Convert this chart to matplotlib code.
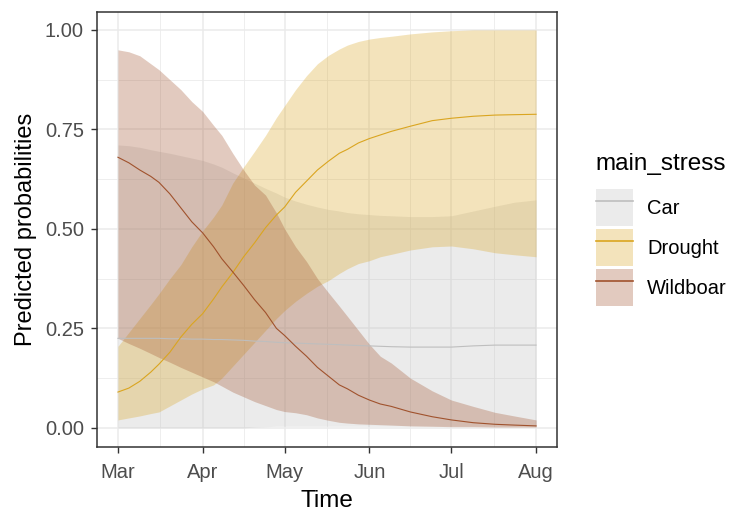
import numpy as np
import matplotlib
matplotlib.use("Agg")
import matplotlib.pyplot as plt
import matplotlib.dates as mdates
from matplotlib.patches import Patch
from matplotlib.lines import Line2D

plt.rcParams['font.family'] = ['Liberation Sans', 'DejaVu Sans']

# days since 1 March
days = [0, 4, 8, 12, 15, 19, 23, 27, 31, 35, 38, 42, 46, 50, 54, 58, 61, 65, 69, 73,
        77, 81, 84, 88, 92, 96, 100, 107, 115, 122, 130, 138, 145, 153]

car_fit = [.225, .225, .225, .225, .225, .224, .224, .223, .223, .222, .222, .221, .220, .218, .217, .215, .214,
           .213, .212, .211, .210, .209, .208, .207, .206, .205, .204, .203, .203, .203, .206, .208, .208, .208]
car_lo = [0, 0, 0, 0, 0, 0, 0, 0, 0, 0, 0, 0, 0, .002, .003, .004, .004, .004, .004, .004, .004,
          .004, .004, .004, .004, .004, .004, .004, .004, .004, .004, .004, .004, .004]
car_hi = [.711, .709, .705, .699, .695, .69, .684, .678, .672, .663, .655, .641, .628, .615, .602, .59, .58,
          .57, .562, .555, .549, .545, .541, .538, .536, .534, .533, .531, .531, .533, .545, .557, .567, .573]

drought_fit = [.09, .10, .117, .14, .16, .19, .228, .26, .287, .324, .354, .39, .43, .465, .503, .535, .555,
               .592, .62, .648, .67, .69, .70, .716, .727, .736, .745, .758, .772, .778, .783, .786, .787, .788]
drought_lo = [.02, .025, .03, .036, .04, .055, .07, .085, .098, .108, .125, .155, .185, .215, .245, .275, .295,
              .318, .338, .356, .37, .388, .40, .413, .42, .43, .436, .447, .455, .457, .45, .44, .435, .43]
drought_hi = [.205, .24, .275, .31, .337, .375, .41, .455, .495, .53, .56, .615, .656, .695, .735, .78, .81,
              .85, .885, .915, .936, .952, .962, .971, .977, .981, .984, .99, .995, .998, 1, 1, 1, 1]

boar_fit = [.68, .666, .648, .632, .617, .588, .553, .518, .49, .455, .425, .392, .358, .322, .29, .25, .232,
            .205, .18, .152, .13, .108, .098, .082, .07, .06, .054, .04, .028, .02, .013, .009, .007, .005]
boar_lo = [.225, .212, .20, .187, .177, .165, .152, .14, .128, .116, .105, .09, .078, .066, .056, .046, .041,
           .038, .033, .025, .019, .014, .012, .01, .009, .008, .007, .005, .004, .003, .003, .002, .002, .002]
boar_hi = [.95, .945, .935, .915, .90, .875, .85, .82, .795, .76, .735, .69, .648, .61, .585, .54, .50,
           .455, .418, .375, .34, .306, .28, .245, .21, .18, .163, .125, .093, .07, .054, .039, .03, .02]

groups = ['Car', 'Drought', 'Wildboar']
line_cols = ['#BEBEBE', '#DAA520', '#A0522D']
month_labels = ['Mar', 'Apr', 'May', 'Jun', 'Jul', 'Aug']

start = np.datetime64('2021-03-01')
t = start + np.array(days, dtype='timedelta64[D]')

fig = plt.figure(figsize=(7.39, 5.13), dpi=100)
ax = fig.add_axes([0.1313, 0.1287, 0.6224, 0.8479])

fits = [car_fit, drought_fit, boar_fit]
los = [car_lo, drought_lo, boar_lo]
his = [car_hi, drought_hi, boar_hi]

# ribbons first, lines on top
for lo, hi, c in zip(los, his, line_cols):
    ax.fill_between(t, lo, hi, color=c, alpha=0.3, linewidth=0, zorder=2)
for fit, c in zip(fits, line_cols):
    ax.plot(t, fit, color=c, lw=0.8, zorder=3)

# axes / grid like theme_bw
majors = start.astype('datetime64[M]') + np.arange(len(month_labels))
major_num = mdates.date2num(majors.astype('datetime64[D]'))
minor_num = (major_num[:-1] + major_num[1:]) / 2
ax.set_xticks(major_num)
ax.set_xticklabels(month_labels)
ax.set_xticks(minor_num, minor=True)
x0 = mdates.date2num(start)
span = major_num[-1] - x0
ax.set_xlim(x0 - 0.05 * span, major_num[-1] + 0.05 * span)

ax.set_yticks([0, .25, .5, .75, 1.0])
ax.set_yticklabels(['0.00', '0.25', '0.50', '0.75', '1.00'])
ax.set_yticks([.125, .375, .625, .875], minor=True)
ax.set_ylim(-0.048, 1.045)

ax.grid(which='major', color='#EBEBEB', lw=1.1, zorder=0)
ax.grid(which='minor', color='#EBEBEB', lw=0.6, zorder=0)
ax.set_axisbelow(True)
for s in ax.spines.values():
    s.set_color('#333333')
    s.set_linewidth(1.1)
ax.tick_params(which='major', length=4.5, width=1.0, color='#333333',
               labelsize=14.5, labelcolor='#4D4D4D')
ax.tick_params(axis='y', which='major', pad=5)
ax.tick_params(axis='x', which='major', pad=7)
ax.tick_params(which='minor', length=0)

ax.set_xlabel('Time', fontsize=17.5, color='black', labelpad=6)
ax.set_ylabel('Predicted probabilities', fontsize=17, color='black', labelpad=6)

handles = [(Patch(facecolor=c, alpha=0.3, edgecolor='none'), Line2D([], [], color=c, lw=1.2))
           for c in line_cols]
leg = ax.legend(handles, groups, title='main_stress', loc='center left',
                bbox_to_anchor=(1.067, 0.5), frameon=False, fontsize=14.5,
                title_fontsize=17.5, handlelength=1.85, handleheight=2.45,
                labelspacing=0.15, handletextpad=0.7, borderaxespad=0)
leg._legend_box.align = 'left'
leg._legend_box.sep = 10  # extra room under the legend title

fig.savefig('out.png', dpi=100)
